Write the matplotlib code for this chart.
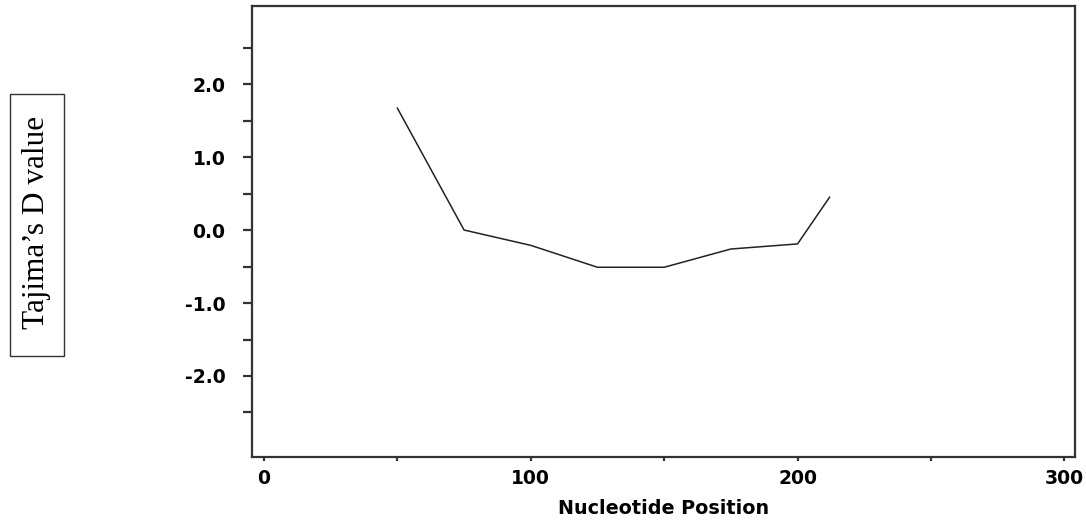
import matplotlib
matplotlib.use("Agg")
import matplotlib.pyplot as plt
from matplotlib.ticker import FixedLocator, FixedFormatter
from matplotlib.patches import Rectangle

# Data
positions = [50, 75, 100, 125, 150, 175, 200, 212]
tajima_d = [1.67, 0.0, -0.21, -0.51, -0.51, -0.26, -0.19, 0.45]

x_ticks = [0, 50, 100, 150, 200, 250, 300]
x_labels = ["0", "", "100", "", "200", "", "300"]
y_ticks = [-2.5, -2.0, -1.5, -1.0, -0.5, 0.0, 0.5, 1.0, 1.5, 2.0, 2.5]
y_labels = ["", "-2.0", "", "-1.0", "", "0.0", "", "1.0", "", "2.0", ""]

W, H = 1086, 527
fig = plt.figure(figsize=(W / 100, H / 100), dpi=100)
ax = fig.add_axes([252 / W, 1 - 457 / H, (1075 - 252) / W, (457 - 6) / H])

ax.plot(positions, tajima_d, color="#222222", lw=1.1)

ax.set_xlim(-4.5, 304)
ax.set_ylim(-3.11, 3.07)

ax.xaxis.set_major_locator(FixedLocator(x_ticks))
ax.xaxis.set_major_formatter(FixedFormatter(x_labels))
ax.yaxis.set_major_locator(FixedLocator(y_ticks))
ax.yaxis.set_major_formatter(FixedFormatter(y_labels))

for s in ax.spines.values():
    s.set_linewidth(1.6)
    s.set_color("#333333")

ax.tick_params(axis="x", length=2.9, width=1.6, color="#333333", pad=6)
ax.tick_params(axis="y", length=6.5, width=1.6, color="#333333", pad=12.5)
for lab in ax.get_xticklabels() + ax.get_yticklabels():
    lab.set_fontfamily("DejaVu Sans")
    lab.set_fontweight("bold")
    lab.set_fontsize(13.5)

ax.set_xlabel("Nucleotide Position", fontfamily="DejaVu Sans",
              fontweight="bold", fontsize=13.8, labelpad=8)

fig.patches.append(Rectangle((10 / W, 1 - 356 / H), 54 / W, 262 / H,
                             transform=fig.transFigure, fill=False,
                             ec="#333333", lw=1.0))
fig.text(37 / W, 1 - 222 / H, "Tajima\u2019s D value", rotation=90,
         fontfamily="Liberation Serif", fontsize=22.5,
         ha="center", va="center")

fig.savefig("out.png", dpi=100)
